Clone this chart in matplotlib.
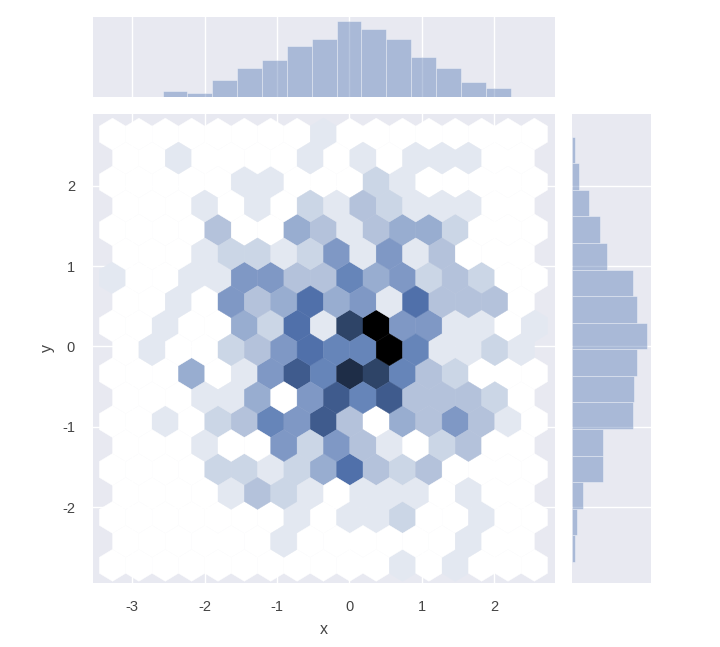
import numpy as np
import matplotlib
matplotlib.use('Agg')
import matplotlib.pyplot as plt
from matplotlib.colors import LinearSegmentedColormap

plt.rcParams['font.family'] = ['Liberation Sans', 'DejaVu Sans']
plt.rcParams['axes.unicode_minus'] = False

# hexbin counts, top row first; rows alternate between the two hex lattices
hex_rows = [
    [0,0,0,0,0,0,0,0,1,0,0,0,0,0,0,0,0],
    [0,0,1,0,0,0,0,1,0,1,0,1,1,1,0,0],
    [0,0,0,0,0,1,1,0,0,0,2,1,0,0,0,0,0],
    [0,0,0,1,0,1,0,2,1,3,2,1,1,1,0,0],
    [0,0,0,0,3,0,0,4,3,1,3,4,4,2,0,0,0],
    [0,0,0,1,2,2,1,2,5,1,5,1,3,0,0,0],
    [1,0,0,1,1,5,5,3,3,6,4,5,2,3,2,0,0],
    [0,0,1,0,5,3,4,7,4,5,1,7,3,3,3,0],
    [0,0,1,0,0,4,2,7,1,9,11,5,5,1,1,0,1],
    [0,1,0,0,2,3,5,7,6,6,11,6,1,1,2,1],
    [0,0,0,4,0,1,5,8,6,10,9,6,3,2,0,0,0],
    [0,0,0,1,1,4,0,5,8,6,8,3,3,3,2,0],
    [0,0,1,0,2,3,6,5,8,3,0,4,3,5,3,1,0],
    [0,0,0,1,0,0,5,2,5,3,1,0,2,3,0,0],
    [0,0,0,0,2,2,1,2,4,7,3,2,3,0,0,0,0],
    [0,0,0,0,1,3,2,1,0,1,1,1,0,1,0,0],
    [0,0,0,0,0,0,0,1,0,1,1,2,0,0,1,0,0],
    [0,0,0,0,0,0,1,0,0,0,0,0,0,1,0,0],
    [0,0,0,0,0,0,0,0,0,0,0,1,0,1,0,0,0],
]
hex_extent = (-3.27, 2.555, -2.72, 2.64)
hex_grid = (16, 9)

# marginal histograms
x_edges = np.linspace(-2.58, 2.57, 16)
x_counts = [12, 8, 34, 58, 74, 102, 117, 153, 136, 117, 81, 58, 30, 18, 1]
y_edges = np.linspace(-2.68, 2.61, 17)
y_counts = [5, 9, 20, 56, 56, 109, 111, 116, 134, 116, 109, 62, 50, 31, 12, 5]

x_ticks = [-3, -2, -1, 0, 1, 2]
y_ticks = [-2, -1, 0, 1, 2]

blue = '#4C72B0'
bg = '#E8E9F1'
# colour of each count level
hex_colors = ['#FFFFFF', '#E3E8F1', '#CBD6E6', '#B3C2DB', '#98ADD0', '#7F98C5',
              '#6685B9', '#5070AA', '#3F5C8E', '#2E4468', '#1E2D48', '#000000']
W, H = 720, 647


def axes_px(fig, left, top, right, bottom):
    ax = fig.add_axes([left / W, 1 - bottom / H, (right - left) / W, (bottom - top) / H])
    ax.set_facecolor(bg)
    for s in ax.spines.values():
        s.set_visible(False)
    ax.set_axisbelow(True)
    ax.tick_params(length=0, labelsize=10.5, labelcolor='#444444')
    return ax


cmap = LinearSegmentedColormap.from_list('hex_blue', hex_colors)

fig = plt.figure(figsize=(W / 100, H / 100), dpi=100, facecolor='white')
ax = axes_px(fig, 93, 114, 555, 583)
ax_top = axes_px(fig, 93, 17, 555, 97)
ax_right = axes_px(fig, 572, 114, 651, 583)

# cell centres of the hexbin lattices
xmin, xmax, ymin, ymax = hex_extent
sx = (xmax - xmin) / hex_grid[0]
row_y = np.linspace(ymax, ymin, len(hex_rows))
cell_x, cell_y, cell_c = [], [], []
for row, y in zip(hex_rows, row_y):
    start = xmin if len(row) == hex_grid[0] + 1 else xmin + sx / 2
    for k, c in enumerate(row):
        cell_x.append(start + k * sx)
        cell_y.append(y)
        cell_c.append(c)

ax.grid(True, color='white', linewidth=1.0)
ax.hexbin(cell_x, cell_y, C=cell_c, gridsize=hex_grid, extent=hex_extent,
          reduce_C_function=np.max, cmap=cmap, vmin=0, vmax=11, linewidths=0.3)
ax.set_xlim(-3.54, 2.84)
ax.set_ylim(-2.94, 2.89)
ax.set_xticks(x_ticks)
ax.set_yticks(y_ticks)
ax.tick_params(axis='x', pad=12)
ax.tick_params(axis='y', pad=13)
ax.set_xlabel('x', fontsize=11.5, color='#444444', labelpad=6)
ax.set_ylabel('y', fontsize=11.5, color='#444444', labelpad=5)

ax_top.bar(x_edges[:-1], x_counts, width=np.diff(x_edges), align='edge',
           color=blue, alpha=0.4, edgecolor='white', linewidth=0.6)
ax_top.set_xlim(ax.get_xlim())
ax_top.set_ylim(0, 161)
ax_top.set_xticks(x_ticks)
ax_top.set_yticks([])
ax_top.grid(True, axis='x', color='white', linewidth=1.0)
ax_top.tick_params(labelbottom=False)

ax_right.barh(y_edges[:-1], y_counts, height=np.diff(y_edges), align='edge',
              color=blue, alpha=0.4, edgecolor='white', linewidth=0.6)
ax_right.set_ylim(ax.get_ylim())
ax_right.set_xlim(0, 141.7)
ax_right.set_yticks(y_ticks)
ax_right.set_xticks([])
ax_right.grid(True, axis='y', color='white', linewidth=1.0)
ax_right.tick_params(labelleft=False)

fig.savefig('out.png', dpi=100)
plt.close(fig)
